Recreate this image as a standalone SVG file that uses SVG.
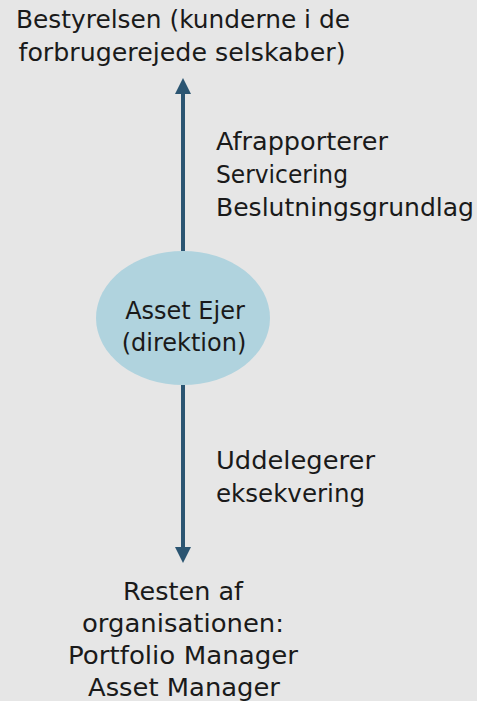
<svg xmlns="http://www.w3.org/2000/svg" width="477" height="701" viewBox="0 0 477 701">
<style>
text{font-family:"DejaVu Sans","Liberation Sans",sans-serif;font-size:24px;fill:#1a1a1a}
.c{text-anchor:middle}
.conn{stroke:#2b5572;stroke-width:4;fill:none}
</style>
<defs>
<marker id="ah" viewBox="0 0 10 10" refX="0" refY="5" markerWidth="4" markerHeight="4" markerUnits="strokeWidth" orient="auto">
<path d="M0,0 L10,5 L0,10 Z" fill="#2b5572"/>
</marker>
</defs>
<rect width="477" height="701" fill="#e6e6e6"/>
<g id="connectors">
<line class="conn" x1="183" y1="251" x2="183" y2="94" marker-end="url(#ah)"/>
<line class="conn" x1="183" y1="385" x2="183" y2="547" marker-end="url(#ah)"/>
</g>
<g id="board">
<text class="c" x="183" y="28" textLength="334" lengthAdjust="spacingAndGlyphs">Bestyrelsen (kunderne i de</text>
<text class="c" x="182" y="61" textLength="327" lengthAdjust="spacingAndGlyphs">forbrugerejede selskaber)</text>
</g>
<g id="owner">
<ellipse cx="183" cy="318" rx="87" ry="67" fill="#b0d3de"/>
<text class="c" x="185" y="319">Asset Ejer</text>
<text class="c" x="184" y="351">(direktion)</text>
</g>
<g id="up-label">
<text x="216" y="150" textLength="172" lengthAdjust="spacingAndGlyphs">Afrapporterer</text>
<text x="216" y="183" textLength="132" lengthAdjust="spacingAndGlyphs">Servicering</text>
<text x="216" y="216" textLength="258" lengthAdjust="spacingAndGlyphs">Beslutningsgrundlag</text>
</g>
<g id="down-label">
<text x="216" y="469" textLength="159" lengthAdjust="spacingAndGlyphs">Uddelegerer</text>
<text x="216" y="502" textLength="149" lengthAdjust="spacingAndGlyphs">eksekvering</text>
</g>
<g id="rest">
<text class="c" x="183" y="600" textLength="120" lengthAdjust="spacingAndGlyphs">Resten af</text>
<text class="c" x="183" y="632" textLength="202" lengthAdjust="spacingAndGlyphs">organisationen:</text>
<text class="c" x="183" y="664" textLength="230" lengthAdjust="spacingAndGlyphs">Portfolio Manager</text>
<text class="c" x="184" y="696" textLength="192" lengthAdjust="spacingAndGlyphs">Asset Manager</text>
</g>
</svg>
